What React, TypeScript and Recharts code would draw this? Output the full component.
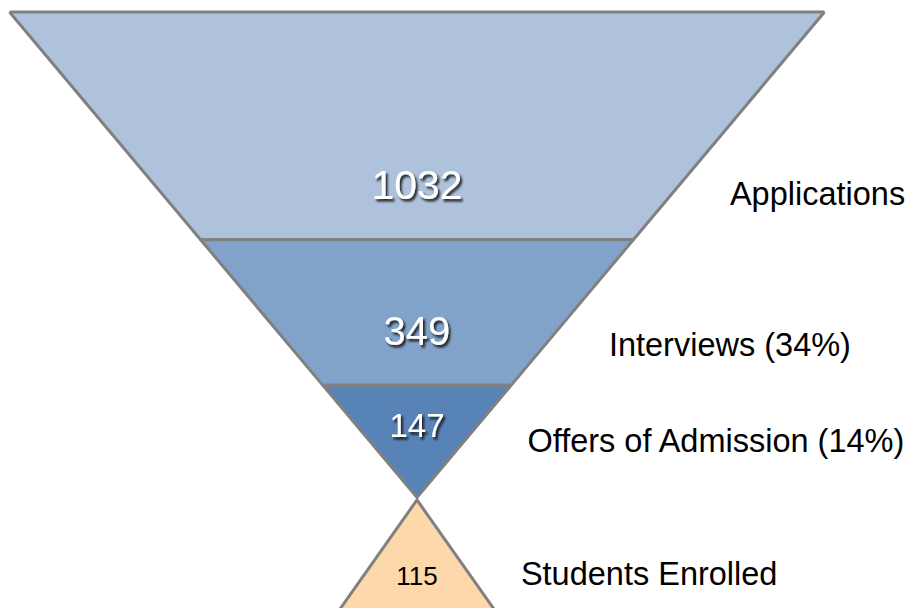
import { Area, ComposedChart, ReferenceDot, XAxis, YAxis } from "recharts";

const STAGES = ["Applications", "Interviews (34%)", "Offers of Admission (14%)", "Students Enrolled"];
const COUNTS = [1032, 349, 147, 115];

// depth inside the funnel, 0 = rim, 1 = neck
const BAND_TOP = [0, 0.469, 0.769];
const BAND_BOTTOM = [0.469, 0.769, 1];

// the enrolled triangle hanging under the neck
const ENROLLED_APEX = 1.005;
const ENROLLED_BASE = 1.35;
const ENROLLED_HALF = 0.29;

const FILLS = ["#aec2dc", "#82a3c9", "#5883b6", "#fcd8aa"];
const EDGE = "#808080";
const FONT = "'Liberation Sans', Arial, Helvetica, sans-serif";

// where the texts sit (x in funnel half-widths, y in depth)
const COUNT_POS = [
  { y: 0.385, size: 41 },
  { y: 0.686, size: 40 },
  { y: 0.875, size: 33 },
  { y: 1.18, size: 26 },
];
const NAME_POS = [
  { x: 0.768, y: 0.3975 },
  { x: 0.471, y: 0.7086 },
  { x: 0.271, y: 0.9063 },
  { x: 0.255, y: 1.18 },
];

function bandData(top: number, bottom: number) {
  const wt = 1 - top;
  const wb = 1 - bottom;
  return [
    { x: -wt, span: [top, top] },
    { x: -wb, span: [top, bottom] },
    { x: wb, span: [top, bottom] },
    { x: wt, span: [top, top] },
  ];
}

const enrolledData = [
  { x: -ENROLLED_HALF, span: [ENROLLED_BASE, ENROLLED_BASE] },
  { x: 0, span: [ENROLLED_APEX, ENROLLED_BASE] },
  { x: ENROLLED_HALF, span: [ENROLLED_BASE, ENROLLED_BASE] },
];

const series = [
  ...BAND_TOP.map((t, i) => ({ key: STAGES[i], data: bandData(t, BAND_BOTTOM[i]), fill: FILLS[i] })),
  { key: STAGES[3], data: enrolledData, fill: FILLS[3] },
];

function countLabel(i: number) {
  const shadow = i < 3;
  return (props: any) => {
    const vb = props.viewBox;
    const id = `shadow-${i}`;
    return (
      <g>
        {shadow && (
          <defs>
            <filter id={id} x="-20%" y="-30%" width="140%" height="160%">
              <feDropShadow dx="2" dy="2.5" stdDeviation="1.3" floodColor="#111" floodOpacity="0.9" />
            </filter>
          </defs>
        )}
        <text
          x={vb.x}
          y={vb.y}
          textAnchor="middle"
          fontFamily={FONT}
          fontSize={COUNT_POS[i].size}
          fill={shadow ? "#ffffff" : "#000000"}
          filter={shadow ? `url(#${id})` : undefined}
        >
          {COUNTS[i]}
        </text>
      </g>
    );
  };
}

function nameLabel(i: number) {
  return (props: any) => {
    const vb = props.viewBox;
    return (
      <text x={vb.x} y={vb.y} textAnchor="start" fontFamily={FONT} fontSize={32.5} fill="#000">
        {STAGES[i]}
      </text>
    );
  };
}

export default function App() {
  return (
    <div style={{ position: "absolute", left: 0, top: 0, width: 907, height: 608, background: "#fff" }}>
      <ComposedChart width={907} height={608} margin={{ top: 0, right: 0, bottom: 0, left: 0 }}>
        <XAxis type="number" dataKey="x" hide domain={[-1.0233, 1.2025]} allowDataOverflow />
        <YAxis type="number" hide reversed domain={[-0.02472, 1.2276]} allowDataOverflow />
        {series.map((s) => (
          <Area
            key={s.key}
            data={s.data}
            dataKey="span"
            type="linear"
            fill={s.fill}
            fillOpacity={1}
            stroke={EDGE}
            strokeWidth={3}
            dot={false}
            activeDot={false}
            isAnimationActive={false}
          />
        ))}
        {COUNTS.map((_, i) => (
          <ReferenceDot key={`c${i}`} x={0} y={COUNT_POS[i].y} r={0} stroke="none" fill="none" label={countLabel(i)} />
        ))}
        {STAGES.map((_, i) => (
          <ReferenceDot key={`n${i}`} x={NAME_POS[i].x} y={NAME_POS[i].y} r={0} stroke="none" fill="none" label={nameLabel(i)} />
        ))}
      </ComposedChart>
    </div>
  );
}
